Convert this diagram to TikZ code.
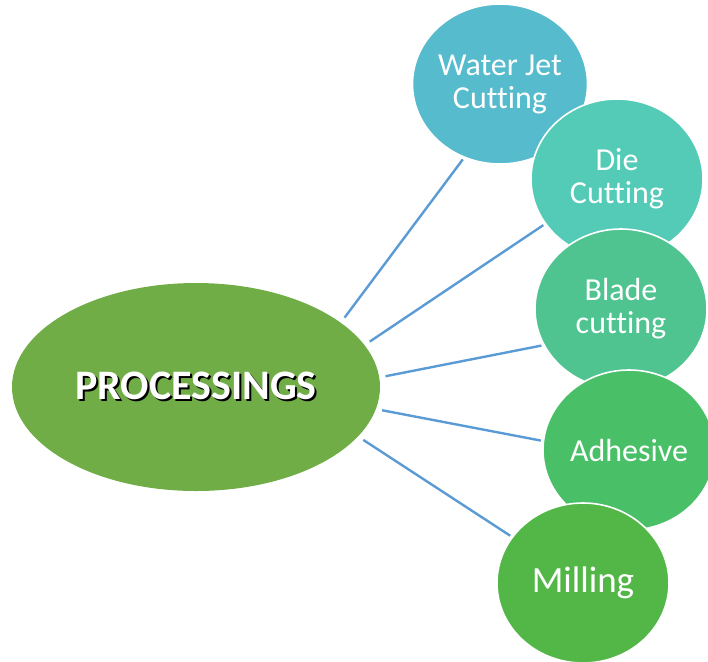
\documentclass[tikz,border=0pt]{standalone}
\usepackage{fontspec}
\setmainfont{Carlito}[Ligatures=NoCommon]
\usetikzlibrary{shapes.geometric}
\definecolor{procgreen}{HTML}{70AD47}
\definecolor{jetblue}{HTML}{56BBCD}
\definecolor{diecyan}{HTML}{53CBB7}
\definecolor{bladegreen}{HTML}{4FC491}
\definecolor{adhgreen}{HTML}{49BF67}
\definecolor{millgreen}{HTML}{53B748}
\definecolor{linkblue}{HTML}{5B9BD5}
\newcommand{\shadowed}[1]{\rlap{\color{black}\kern1pt\raisebox{-1pt}{#1}}#1}
\begin{document}
\begin{tikzpicture}[x=0.5pt,y=-0.5pt,
    bubble/.style={ellipse,minimum width=86pt,minimum height=80pt,inner sep=0pt,draw=white,line width=0.8pt,text=white,align=center,font=\fontsize{16}{16.5}\selectfont},
    link/.style={draw=linkblue,line width=1.2pt,shorten <=3pt,shorten >=1pt}]
  \useasboundingbox (0,0) rectangle (708,661);
  \node[ellipse,fill=procgreen,minimum width=184pt,minimum height=104pt,text=white,font=\bfseries\fontsize{21}{24}\selectfont] (proc) at (196,387) {\shadowed{PROCESSINGS}}; %centre
  \node[bubble,fill=jetblue] (jet) at (500,84) {Water Jet\\Cutting};
  \node[bubble,fill=diecyan] (die) at (617,179) {Die\\Cutting};
  \node[bubble,fill=bladegreen] (blade) at (621,309) {Blade\\cutting};
  \node[bubble,fill=adhgreen] (adh) at (629,450) {Adhesive};
  \node[bubble,fill=millgreen,font=\fontsize{18.5}{20}\selectfont] (mill) at (583,583) {Milling};
  \draw[link] (proc.24.8) -- (jet.-116.9);
  \draw[link] (proc.14) -- (die.212.9);
  \draw[link] (proc.3.1) -- (blade.205.1);
  \draw[link] (proc.-7.4) -- (adh.174.8);
  \draw[link] (proc.-17.8) -- (mill.147.1);
\end{tikzpicture}
\end{document}
